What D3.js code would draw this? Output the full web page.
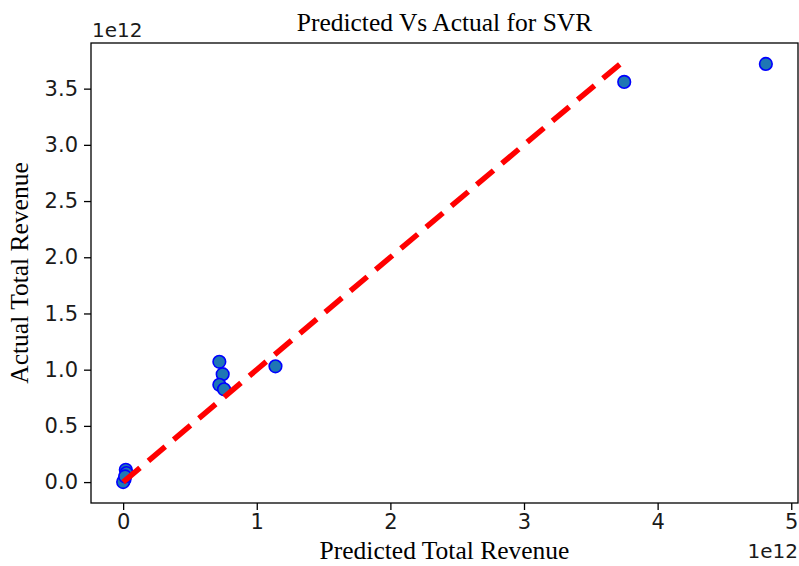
<!DOCTYPE html>
<html>
<head>
<meta charset="utf-8">
<script src="https://cdn.jsdelivr.net/npm/d3@7"></script>
<style>
  body { margin: 0; background: #fff; }
  svg { display: block; }
</style>
</head>
<body>
<svg id="chart" width="799" height="566"></svg>
<script>
// values in units of 1e12
const predicted = [4.81, 3.75, 1.14, 0.72, 0.745, 0.72, 0.755, 0.02, 0.025, 0.01, 0.0, 0.015];
const actual    = [3.72, 3.56, 1.03, 1.07, 0.96, 0.865, 0.825, 0.11, 0.08, 0.02, 0.0, 0.05];
const xTicks = [0, 1, 2, 3, 4, 5];
const yTicks = [0, 0.5, 1, 1.5, 2, 2.5, 3, 3.5];

const margin = {top: 43, right: 1, bottom: 63, left: 91};
const width = 799 - margin.left - margin.right;
const height = 566 - margin.top - margin.bottom;

const svg = d3.select("#chart");
const g = svg.append("g").attr("transform", `translate(${margin.left},${margin.top})`);

// matplotlib style 5% padding
function padded(ext) {
    const pad = (ext[1] - ext[0]) * 0.05;
    return [ext[0] - pad, ext[1] + pad];
}
const yMin = d3.min(actual), yMax = d3.max(actual);
const x = d3.scaleLinear().domain(padded(d3.extent(predicted.concat([yMin, yMax])))).range([0, width]);
const y = d3.scaleLinear().domain(padded(d3.extent(actual))).range([height, 0]);

const points = predicted.map((p, i) => ({p: p, a: actual[i]}));

// scatter
g.selectAll("circle.pt")
    .data(points)
    .enter().append("circle")
    .attr("class", "pt")
    .attr("cx", d => x(d.p))
    .attr("cy", d => y(d.a))
    .attr("r", 6.3)
    .attr("fill", "#1f77b4")
    .attr("stroke", "#0000ff")
    .attr("stroke-width", 1.6);

// ideal line
g.append("line")
    .attr("x1", x(yMin)).attr("y1", y(yMin))
    .attr("x2", x(yMax)).attr("y2", y(yMax))
    .attr("stroke", "#ff0000")
    .attr("stroke-width", 5.5)
    .attr("stroke-dasharray", "22 11");

// axes
const xAxis = g.append("g")
    .attr("transform", `translate(0,${height})`)
    .call(d3.axisBottom(x).tickValues(xTicks).tickFormat(d3.format("d")).tickSize(7).tickPadding(4));
const yAxis = g.append("g")
    .call(d3.axisLeft(y).tickValues(yTicks).tickFormat(d3.format(".1f")).tickSize(7).tickPadding(6));

[xAxis, yAxis].forEach(ax => {
    ax.select(".domain").remove();
    ax.selectAll(".tick line").attr("stroke", "#000").attr("stroke-width", 1.3);
    ax.selectAll(".tick text")
        .attr("fill", "#1a1a1a")
        .style("font-family", "'DejaVu Sans', sans-serif")
        .style("font-size", "21px");
});

// frame
g.append("rect")
    .attr("x", 0).attr("y", 0)
    .attr("width", width).attr("height", height)
    .attr("fill", "none")
    .attr("stroke", "#000")
    .attr("stroke-width", 1.3);

// offset labels
svg.append("text")
    .attr("x", margin.left + 1).attr("y", 37)
    .style("font-family", "'DejaVu Sans', sans-serif")
    .style("font-size", "20px")
    .attr("fill", "#1a1a1a")
    .text("1e12");
svg.append("text")
    .attr("x", margin.left + width).attr("y", 558)
    .attr("text-anchor", "end")
    .style("font-family", "'DejaVu Sans', sans-serif")
    .style("font-size", "20px")
    .attr("fill", "#1a1a1a")
    .text("1e12");

// title and axis labels
const serif = "'Liberation Serif', 'Times New Roman', serif";
svg.append("text")
    .attr("x", margin.left + width / 2).attr("y", 31)
    .attr("text-anchor", "middle")
    .style("font-family", serif).style("font-size", "25.5px")
    .text("Predicted Vs Actual for SVR");
svg.append("text")
    .attr("x", margin.left + width / 2).attr("y", 559)
    .attr("text-anchor", "middle")
    .style("font-family", serif).style("font-size", "25.5px")
    .text("Predicted Total Revenue");
svg.append("text")
    .attr("transform", `translate(28,${margin.top + height / 2}) rotate(-90)`)
    .attr("text-anchor", "middle")
    .style("font-family", serif).style("font-size", "25.5px")
    .text("Actual Total Revenue");
</script>
</body>
</html>
